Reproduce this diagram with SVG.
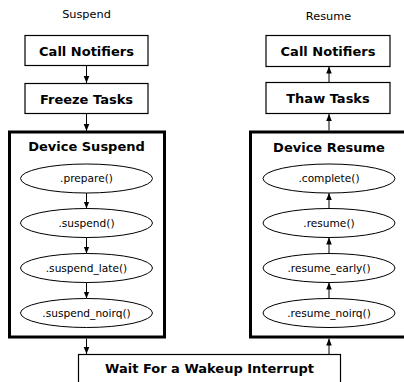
<svg xmlns="http://www.w3.org/2000/svg" width="404" height="382" viewBox="0 0 404 382">
<defs>
<style>
.box{fill:#fff;stroke:#000;stroke-width:1.2}
.grp{fill:#fff;stroke:#000;stroke-width:3}
.ell{fill:#fff;stroke:#000;stroke-width:1}
.bt{font-family:"DejaVu Sans",sans-serif;font-weight:bold;font-size:13px;text-anchor:middle}
.et{font-family:"DejaVu Sans",sans-serif;font-size:10.6px;text-anchor:middle}
.lt{font-family:"DejaVu Sans",sans-serif;font-size:11.3px;text-anchor:middle}
.c{stroke:#000;stroke-width:1;fill:none;marker-end:url(#ah)}
</style>
<marker id="ah" viewBox="0 0 10 10" refX="10" refY="5" markerWidth="7" markerHeight="7" orient="auto" markerUnits="userSpaceOnUse">
<path d="M0,1 L10,5 L0,9 z" fill="#000"/>
</marker>
</defs>
<text class="lt" x="86.5" y="18">Suspend</text>
<text class="lt" x="328.5" y="20">Resume</text>
<g id="s_notify"><rect class="box" x="25" y="35.5" width="123" height="30"/><text class="bt" x="86.5" y="55.5">Call Notifiers</text></g>
<g id="s_freeze"><rect class="box" x="25" y="83.5" width="123" height="30"/><text class="bt" x="86.5" y="103.5">Freeze Tasks</text></g>
<g id="r_notify"><rect class="box" x="266" y="35.5" width="124" height="31"/><text class="bt" x="328" y="56">Call Notifiers</text></g>
<g id="r_thaw"><rect class="box" x="266" y="82.5" width="124" height="31"/><text class="bt" x="328" y="103">Thaw Tasks</text></g>
<g id="dev_suspend"><rect class="grp" x="9.5" y="132" width="155" height="205"/><text class="bt" x="86.5" y="151">Device Suspend</text></g>
<g id="dev_resume"><rect class="grp" x="250.5" y="132" width="156" height="205"/><text class="bt" x="329" y="152">Device Resume</text></g>
<g id="prepare"><ellipse class="ell" cx="86.5" cy="178.5" rx="66" ry="14.5"/><text class="et" x="86.5" y="182">.prepare()</text></g>
<g id="suspend"><ellipse class="ell" cx="86.5" cy="223" rx="66" ry="14.5"/><text class="et" x="86.5" y="226.5">.suspend()</text></g>
<g id="suspend_late"><ellipse class="ell" cx="86.5" cy="268" rx="66" ry="14.5"/><text class="et" x="86.5" y="271.5">.suspend_late()</text></g>
<g id="suspend_noirq"><ellipse class="ell" cx="86.5" cy="313" rx="66" ry="14.5"/><text class="et" x="86.5" y="316.5">.suspend_noirq()</text></g>
<g id="complete"><ellipse class="ell" cx="329" cy="178.5" rx="66" ry="14.5"/><text class="et" x="329" y="182">.complete()</text></g>
<g id="resume"><ellipse class="ell" cx="329" cy="223" rx="66" ry="14.5"/><text class="et" x="329" y="226.5">.resume()</text></g>
<g id="resume_early"><ellipse class="ell" cx="329" cy="268" rx="66" ry="14.5"/><text class="et" x="329" y="271.5">.resume_early()</text></g>
<g id="resume_noirq"><ellipse class="ell" cx="329" cy="313" rx="66" ry="14.5"/><text class="et" x="329" y="316.5">.resume_noirq()</text></g>
<g id="wait"><rect class="box" x="78.5" y="354.5" width="262" height="40"/><text class="bt" x="209.5" y="373">Wait For a Wakeup Interrupt</text></g>
<g id="connectors">
<line class="c" x1="86.5" y1="66" x2="86.5" y2="83"/>
<line class="c" x1="86.5" y1="114" x2="86.5" y2="131"/>
<line class="c" x1="86.5" y1="193" x2="86.5" y2="208.5"/>
<line class="c" x1="86.5" y1="237.5" x2="86.5" y2="253.5"/>
<line class="c" x1="86.5" y1="282.5" x2="86.5" y2="298.5"/>
<line class="c" x1="86.5" y1="338.5" x2="86.5" y2="354"/>
<line class="c" x1="329" y1="82" x2="329" y2="66.5"/>
<line class="c" x1="329" y1="130.5" x2="329" y2="114"/>
<line class="c" x1="329" y1="208.5" x2="329" y2="193"/>
<line class="c" x1="329" y1="253.5" x2="329" y2="237.5"/>
<line class="c" x1="329" y1="298.5" x2="329" y2="282.5"/>
<line class="c" x1="329" y1="354" x2="329" y2="338.5"/>
</g>
</svg>
